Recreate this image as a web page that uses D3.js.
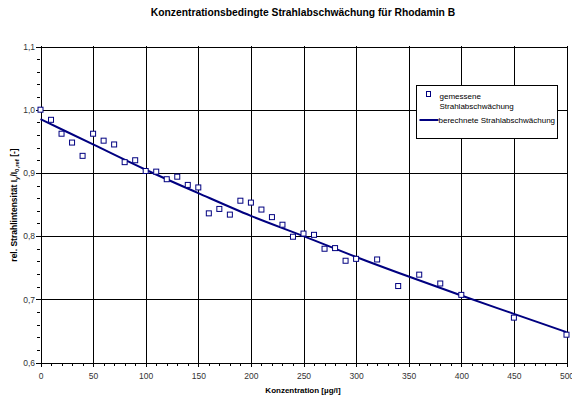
<!DOCTYPE html>
<meta charset="utf-8">
<style>
body { margin: 0; background: #fff; }
text { font-family: "Liberation Sans", Arial, sans-serif; }
.grid line { stroke: #000; stroke-width: 1px; shape-rendering: crispEdges; }
.axis path { display: none; }
.axis line { stroke: #000; shape-rendering: crispEdges; }
.axis text { font-size: 8.5px; fill: #333; }
</style>
<body>
<script src="https://d3js.org/d3.v7.min.js"></script>
<script>

// gemessene Strahlabschwaechung
var konz = [0, 10, 20, 30, 40, 50, 60, 70, 80, 90, 100, 110, 120, 130, 140, 150,
  160, 170, 180, 190, 200, 210, 220, 230, 240, 250, 260, 270, 280, 290, 300,
  320, 340, 360, 380, 400, 450, 500];
var gemessen = [1.000, 0.984, 0.962, 0.948, 0.927, 0.962, 0.951, 0.945, 0.917, 0.920,
  0.903, 0.902, 0.890, 0.894, 0.881, 0.877, 0.836, 0.843, 0.834, 0.856, 0.853,
  0.842, 0.830, 0.818, 0.799, 0.804, 0.802, 0.780, 0.781, 0.761, 0.764,
  0.763, 0.721, 0.739, 0.725, 0.707, 0.671, 0.644];

// berechnete Strahlabschwaechung
var konzCalc = [0, 50, 100, 150, 200, 250, 300, 350, 400, 450, 500];
var berechnet = [0.985, 0.945, 0.905, 0.868, 0.832, 0.800, 0.767, 0.736, 0.706, 0.677, 0.648];

var xTicks = [0, 50, 100, 150, 200, 250, 300, 350, 400, 450, 500];
var yTicks = [0.6, 0.7, 0.8, 0.9, 1.0, 1.1];

var W = 572, H = 400;
var margin = {top: 46, right: 5, bottom: 37, left: 40};
var width = W - margin.left - margin.right,
    height = H - margin.top - margin.bottom;

var x = d3.scaleLinear().domain([0, 500]).range([0.5, width - 0.5]);
var y = d3.scaleLinear().domain([0.6, 1.1]).range([height - 0.5, 0.5]);

var svgRoot = d3.select("body").append("svg")
    .attr("width", W)
    .attr("height", H);

var svg = svgRoot.append("g")
    .attr("transform", "translate(" + margin.left + "," + margin.top + ")");

// gridlines
svg.append("g").attr("class", "grid")
  .selectAll("line.v").data(xTicks).enter().append("line")
    .attr("x1", function(d) { return Math.round(x(d)) + 0.5; })
    .attr("x2", function(d) { return Math.round(x(d)) + 0.5; })
    .attr("y1", 0).attr("y2", height);

svg.append("g").attr("class", "grid")
  .selectAll("line.h").data(yTicks).enter().append("line")
    .attr("y1", function(d) { return Math.round(y(d)) + 0.5; })
    .attr("y2", function(d) { return Math.round(y(d)) + 0.5; })
    .attr("x1", 0).attr("x2", width);

// minor ticks
svg.append("g")
    .attr("class", "axis")
    .attr("transform", "translate(0," + height + ")")
    .call(d3.axisBottom(x).ticks(50).tickSize(3).tickFormat(""));
svg.append("g")
    .attr("class", "axis")
    .call(d3.axisLeft(y).ticks(25).tickSize(3).tickFormat(""));

// major axes
svg.append("g")
    .attr("class", "axis")
    .attr("transform", "translate(0," + height + ")")
    .call(d3.axisBottom(x).tickValues(xTicks).tickSize(4).tickPadding(6).tickFormat(d3.format("d")));

svg.append("g")
    .attr("class", "axis")
    .call(d3.axisLeft(y).tickValues(yTicks).tickSize(4).tickPadding(1)
      .tickFormat(function(d) { return d3.format(".1f")(d).replace(".", ","); }));

// calculated line
var line = d3.line()
    .x(function(d, i) { return x(konzCalc[i]); })
    .y(function(d) { return y(d); })
    .curve(d3.curveMonotoneX);

svg.append("path")
    .datum(berechnet)
    .attr("fill", "none")
    .attr("stroke", "#000080")
    .attr("stroke-width", 2)
    .attr("d", line);

// measured points
svg.selectAll("rect.pt")
    .data(gemessen)
  .enter().append("rect")
    .attr("class", "pt")
    .attr("x", function(d, i) { return x(konz[i]) - 2.5; })
    .attr("y", function(d) { return y(d) - 2.5; })
    .attr("width", 5)
    .attr("height", 5)
    .attr("fill", "#fff")
    .attr("stroke", "#000080")
    .attr("stroke-width", 1);

// legend
var lg = svgRoot.append("g").attr("transform", "translate(416.5,85.5)");
lg.append("rect")
    .attr("width", 141).attr("height", 53)
    .attr("fill", "#fff").attr("stroke", "#000").attr("stroke-width", 1);
lg.append("rect")
    .attr("x", 10).attr("y", 6).attr("width", 4).attr("height", 5)
    .attr("fill", "#fff").attr("stroke", "#000080");
lg.append("text").attr("x", 23).attr("y", 13).style("font-size", "8px").text("gemessene");
lg.append("text").attr("x", 23).attr("y", 23).style("font-size", "8px").text("Strahlabschwächung");
lg.append("line")
    .attr("x1", 3).attr("x2", 22).attr("y1", 34.5).attr("y2", 34.5)
    .attr("stroke", "#000080").attr("stroke-width", 2);
lg.append("text").attr("x", 22).attr("y", 37.5).style("font-size", "8px").text("berechnete Strahlabschwächung");

// title
svgRoot.append("text")
    .attr("x", 303).attr("y", 16)
    .attr("text-anchor", "middle")
    .style("font-size", "10.3px").style("font-weight", "bold")
    .text("Konzentrationsbedingte Strahlabschwächung für Rhodamin B");

// x label
svgRoot.append("text")
    .attr("x", 303).attr("y", 393)
    .attr("text-anchor", "middle")
    .style("font-size", "8px").style("font-weight", "bold")
    .text("Konzentration [µg/l]");

// y label
var yl = svgRoot.append("text")
    .attr("transform", "translate(17,205) rotate(-90)")
    .attr("text-anchor", "middle")
    .style("font-size", "8.5px").style("font-weight", "bold");
yl.append("tspan").text("rel. Strahlintensität I");
yl.append("tspan").attr("dy", 2).style("font-size", "6px").text("y");
yl.append("tspan").attr("dy", -2).text("/I");
yl.append("tspan").attr("dy", 2).style("font-size", "6px").text("0,ref");
yl.append("tspan").attr("dy", -2).text(" [-]");

</script>
</body>
